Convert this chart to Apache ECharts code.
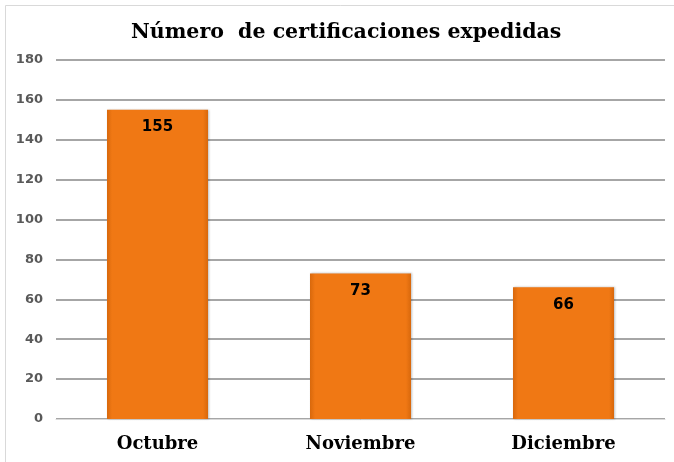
<!DOCTYPE html>
<html>
<head>
<meta charset="utf-8">
<script src="https://cdn.jsdelivr.net/npm/echarts@6/dist/echarts.min.js"></script>
<style>html,body{margin:0;padding:0;background:#fff}#c{width:674px;height:462px}</style>
</head>
<body>
<div id="c"></div>
<script>
const titleText = 'Número  de certificaciones expedidas';
const categories = ['Octubre', 'Noviembre', 'Diciembre'];
const values = [155, 73, 66];
const yTicks = [0, 20, 40, 60, 80, 100, 120, 140, 160, 180];

const chart = echarts.init(document.getElementById('c'));
chart.setOption({
  backgroundColor: '#fff',
  animation: false,
  title: {
    text: titleText, left: 126, top: 17,
    textStyle: { fontFamily: 'DejaVu Serif', fontWeight: 'bold', fontSize: 20.5, color: '#000' }
  },
  graphic: [{
    type: 'rect', shape: { x: 5.5, y: 5.5, width: 700, height: 500 },
    style: { fill: 'none', stroke: '#d9d9d9', lineWidth: 1 }, silent: true
  }],
  grid: { left: 56, right: 9, top: 60, bottom: 43 },
  xAxis: {
    type: 'category', data: categories,
    axisLine: { lineStyle: { color: '#d9d9d9', width: 1 } },
    axisTick: { show: false },
    axisLabel: { margin: 16, fontFamily: 'DejaVu Serif', fontWeight: 'bold', fontSize: 18, color: '#000' }
  },
  yAxis: {
    type: 'value', min: yTicks[0], max: yTicks[yTicks.length - 1], interval: 20,
    axisLine: { show: false }, axisTick: { show: false },
    axisLabel: { margin: 13, fontFamily: 'DejaVu Sans', fontWeight: 'bold', fontSize: 13, color: '#595959' },
    splitLine: { lineStyle: { color: '#a6a6a6', width: 2 } }
  },
  series: [{
    type: 'bar', data: values, barWidth: 101,
    itemStyle: {
      color: new echarts.graphic.LinearGradient(0, 0, 1, 0, [
        { offset: 0, color: '#d8680c' },
        { offset: 0.05, color: '#f07814' },
        { offset: 0.95, color: '#f07814' },
        { offset: 1, color: '#d8680c' }
      ]),
      shadowColor: 'rgba(0,0,0,0.25)', shadowBlur: 2, shadowOffsetX: 1, shadowOffsetY: 0
    },
    label: {
      show: true, position: 'insideTop', distance: 10,
      fontFamily: 'DejaVu Sans', fontWeight: 'bold', fontSize: 15, color: '#000'
    }
  }]
});
</script>
</body>
</html>
